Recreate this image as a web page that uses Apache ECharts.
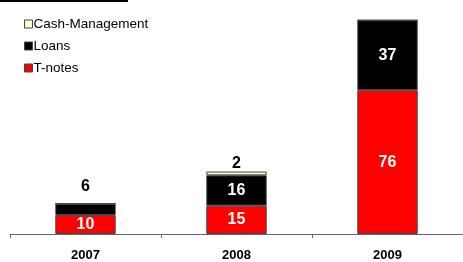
<!DOCTYPE html>
<html>
<head>
<meta charset="utf-8">
<script src="https://cdn.jsdelivr.net/npm/echarts@6/dist/echarts.min.js"></script>
<style>
  html, body { margin: 0; padding: 0; background: #fff; }
  #chart { width: 463px; height: 262px; }
</style>
</head>
<body>
<div id="chart"></div>
<script>
const years = ['2007', '2008', '2009'];
const tNotes = [10, 15, 76];
const loans = [6, 16, 37];
const cashMgmt = [0, 2, 0];

const font = '"Liberation Sans", Arial, sans-serif';

// small segments get their number above the bar instead of inside
const toData = (values, insideColor) => values.map(v => {
  if (v > 0 && v < 8) {
    return { value: v, label: { position: 'top', color: '#000', distance: v < 4 ? 0 : 9 } };
  }
  return { value: v, label: { color: insideColor } };
});

const makeSeries = (name, values, color, insideColor) => ({
  name: name,
  type: 'bar',
  stack: 'total',
  barWidth: '40%',
  itemStyle: { color: color, borderColor: '#444', borderWidth: 1 },
  label: {
    show: true,
    position: 'inside',
    fontFamily: font,
    fontWeight: 'bold',
    fontSize: 16,
    formatter: p => (p.value > 0 ? p.value : '')
  },
  data: toData(values, insideColor)
});

const chart = echarts.init(document.getElementById('chart'));

const option = {
  animation: false,
  grid: { left: 10, top: 7, width: 457, bottom: 27, containLabel: false },
  graphic: [
    { type: 'rect', shape: { x: 0, y: 0, width: 128, height: 2 }, style: { fill: '#000' } }
  ],
  legend: {
    orient: 'vertical',
    left: 19,
    top: 12,
    itemWidth: 8,
    itemHeight: 8,
    itemGap: 8,
    icon: 'rect',
    data: ['Cash-Management', 'Loans', 'T-notes'],
    textStyle: { fontFamily: font, fontSize: 13.5, color: '#000', padding: [0, 0, 0, -4] },
    itemStyle: { borderColor: '#444', borderWidth: 1 }
  },
  xAxis: {
    type: 'category',
    data: years,
    axisLine: { lineStyle: { color: '#666', width: 1 } },
    axisTick: { show: true, length: 4, lineStyle: { color: '#666' } },
    axisLabel: { fontFamily: font, fontWeight: 'bold', fontSize: 13, color: '#000', margin: 15 }
  },
  yAxis: {
    type: 'value',
    min: 0,
    max: 120,
    show: false,
    splitLine: { show: false }
  },
  series: [
    makeSeries('T-notes', tNotes, '#ff0000', '#fff'),
    makeSeries('Loans', loans, '#000000', '#fff'),
    makeSeries('Cash-Management', cashMgmt, '#ffffcc', '#000')
  ]
};

chart.setOption(option);
</script>
</body>
</html>
